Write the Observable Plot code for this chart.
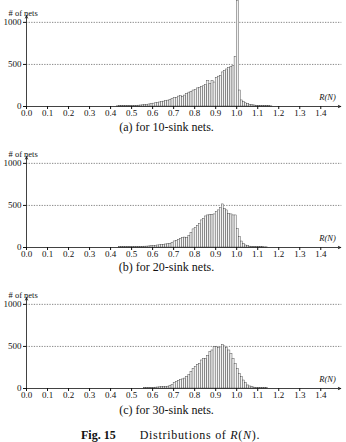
<!DOCTYPE html>
<html><head><meta charset="utf-8">
<script src="https://cdn.jsdelivr.net/npm/d3@7"></script>
<script src="https://cdn.jsdelivr.net/npm/@observablehq/plot@0.6"></script>
<style>
html,body{margin:0;padding:0;background:#fff;}
body{width:346px;height:442px;overflow:hidden;font-family:"Liberation Serif",serif;}
#wrap{position:relative;width:346px;height:442px;overflow:hidden;}
.panel{position:absolute;left:0;}
.cap{position:absolute;left:0;width:333px;text-align:center;font-size:12px;line-height:14px;color:#111;white-space:nowrap;}
.fig{position:absolute;left:81px;font-size:12px;line-height:14px;color:#111;white-space:nowrap;}
.fig .t{letter-spacing:0.7px;margin-left:24px;}
</style></head><body><div id="wrap"></div>
<script>
// bin left edges (width 0.01)
const binLeft = [0.40,0.41,0.42,0.43,0.44,0.45,0.46,0.47,0.48,0.49,
                 0.50,0.51,0.52,0.53,0.54,0.55,0.56,0.57,0.58,0.59,
                 0.60,0.61,0.62,0.63,0.64,0.65,0.66,0.67,0.68,0.69,
                 0.70,0.71,0.72,0.73,0.74,0.75,0.76,0.77,0.78,0.79,
                 0.80,0.81,0.82,0.83,0.84,0.85,0.86,0.87,0.88,0.89,
                 0.90,0.91,0.92,0.93,0.94,0.95,0.96,0.97,0.98,0.99,
                 1.00,1.01,1.02,1.03,1.04,1.05,1.06,1.07,1.08,1.09,
                 1.10,1.11,1.12,1.13,1.14,1.15,1.16,1.17,1.18,1.19];
const binWidth = 0.01;
// (a) 10-sink nets
const countsA = [0,0,0,2,3,3,4,4,5,6,
                 7,8,9,10,12,14,17,20,24,30,
                 34,38,42,48,52,58,62,70,78,88,
                 98,104,118,122,115,130,150,165,175,190,
                 198,215,220,230,240,255,300,270,300,285,
                 340,355,365,405,425,440,455,470,478,592,
                 1255,190,72,52,38,28,20,15,12,9,
                 7,6,5,4,3,3,2,0,0,0];
// (b) 20-sink nets
const countsB = [0,0,0,0,3,4,3,4,5,4,
                 6,5,6,7,7,8,10,11,13,16,
                 20,18,24,26,30,33,36,40,45,55,
                 72,80,90,100,112,118,112,140,175,215,
                 230,254,278,322,341,369,381,389,389,393,
                 421,441,468,512,461,441,401,393,381,381,
                 222,123,71,44,24,16,10,8,6,5,
                 4,3,3,2,2,0,0,0,0,0];
// (c) 30-sink nets
const countsC = [0,0,0,0,0,0,0,0,0,0,
                 0,0,0,0,0,0,3,4,5,6,
                 8,10,12,14,16,18,20,22,28,40,
                 62,78,92,100,108,118,135,160,195,234,
                 254,282,294,333,353,353,385,433,452,492,
                 495,480,488,520,500,480,452,413,353,294,
                 234,175,135,95,64,36,24,16,10,8,
                 6,5,4,3,3,0,0,0,0,0];
const xTicks = [0.0,0.1,0.2,0.3,0.4,0.5,0.6,0.7,0.8,0.9,1.0,1.1,1.2,1.3,1.4];
const yTicks = [0,500,1000];
const gridLines = [500,1000];
const xDomain = [0,1.5];
const yDomain = [0,1260];
const xAxisEnd = 1.495;
const yAxisTop = 1080;
const yLabel = "# of nets";
const xLabel = "R(N)";
const captions = ["(a) for 10-sink nets.","(b) for 20-sink nets.","(c) for 30-sink nets."];
const figNumber = "Fig. 15";
const figText = "Distributions of ";

const panelTops = [0,141,282];
const capTops = [120,260,403];

function panel(counts){
  const rows = binLeft.map((x,i)=>({x1:x, x2:+(x+binWidth).toFixed(3), n:counts[i]})).filter(d=>d.n>0);
  return Plot.plot({
    width:346, height:120,
    marginLeft:26, marginRight:4.7, marginTop:0, marginBottom:14,
    x:{domain:xDomain},
    y:{domain:yDomain},
    style:{fontFamily:"'Liberation Serif',serif", fontSize:"9px", background:"transparent", overflow:"visible", color:"#111"},
    marks:[
      Plot.ruleY(gridLines,{stroke:"#555", strokeDasharray:"1.3,1.3", strokeWidth:0.7}),
      Plot.rectY(rows,{x1:"x1", x2:"x2", y:"n", fill:"#f2f2f2", stroke:"#333", strokeWidth:0.4}),
      Plot.axisX({ticks:xTicks, tickFormat:d=>d.toFixed(1), tickSize:3, tickPadding:0.5, label:null, stroke:"#111"}),
      Plot.axisY({ticks:yTicks, tickFormat:d3.format("d"), tickSize:3, tickPadding:2, label:null, stroke:"#111"}),
      Plot.arrow([{x1:xDomain[0], y1:0, x2:xAxisEnd, y2:0}],{x1:"x1",y1:"y1",x2:"x2",y2:"y2", headLength:5, headAngle:50, strokeWidth:0.8, stroke:"#111"}),
      Plot.arrow([{x1:xDomain[0], y1:0, x2:xDomain[0], y2:yAxisTop}],{x1:"x1",y1:"y1",x2:"x2",y2:"y2", headLength:5, headAngle:50, strokeWidth:0.8, stroke:"#111"}),
      Plot.text([yLabel],{frameAnchor:"top-left", textAnchor:"start", dx:-18, dy:9, fontSize:8.5, fill:"#111"}),
      Plot.text([xLabel],{frameAnchor:"bottom-right", textAnchor:"end", dx:-6, dy:-7, fontSize:8.5, fontStyle:"italic", fill:"#111"})
    ]
  });
}

const wrap = document.getElementById("wrap");
[countsA,countsB,countsC].forEach((c,i)=>{
  const svg = panel(c);
  svg.classList.add("panel");
  svg.style.position = "absolute";
  svg.style.top = panelTops[i]+"px";
  svg.style.left = "0px";
  wrap.appendChild(svg);
  const d = document.createElement("div");
  d.className = "cap";
  d.style.top = capTops[i]+"px";
  d.textContent = captions[i];
  wrap.appendChild(d);
});
const f = document.createElement("div");
f.className = "fig";
f.style.top = "428px";
const b = document.createElement("b"); b.textContent = figNumber; f.appendChild(b);
const s = document.createElement("span"); s.className = "t";
s.appendChild(document.createTextNode(figText));
const r1 = document.createElement("i"); r1.textContent = "R"; s.appendChild(r1);
s.appendChild(document.createTextNode("("));
const n1 = document.createElement("i"); n1.textContent = "N"; s.appendChild(n1);
s.appendChild(document.createTextNode(")."));
f.appendChild(s);
wrap.appendChild(f);
</script></body></html>
